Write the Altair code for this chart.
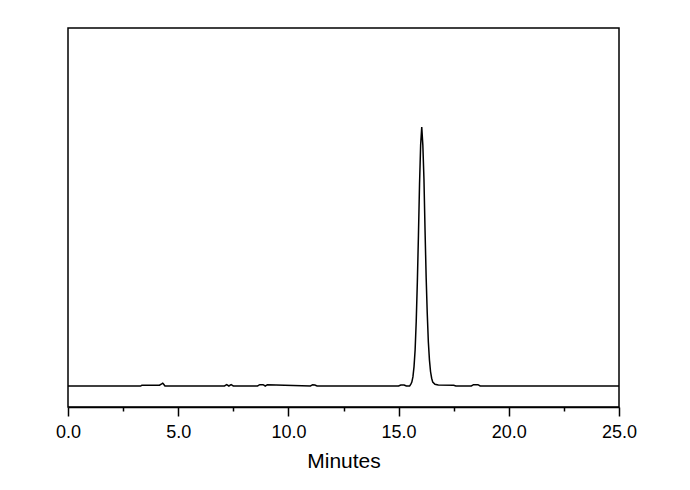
import altair as alt
import pandas as pd

time_min = [0.0, 3.3, 3.35, 4.15, 4.25, 4.3, 4.35, 4.4, 4.45, 7.1, 7.2, 7.3, 7.4, 7.5, 7.6,
            8.6, 8.7, 8.85, 8.95, 9.05, 11.0, 11.1, 11.2, 11.3, 15.0, 15.1, 15.25, 15.35,
            15.5, 15.55, 15.6, 15.65, 15.7, 15.75, 15.8, 15.85, 15.9, 15.95, 16.0, 16.05,
            16.1, 16.15, 16.2, 16.25, 16.3, 16.35, 16.4, 16.45, 16.5, 16.55, 16.65, 16.8,
            17.5, 17.6, 18.3, 18.4, 18.6, 18.7, 25.0]
signal = [0.0, 0.0, 0.3, 0.3, 0.8, 1.1, 0.6, 0.0, 0.0, 0.0, 0.5, 0.0, 0.5, 0.0, 0.0,
          0.0, 0.5, 0.5, 0.0, 0.5, 0.0, 0.5, 0.4, 0.0, 0.0, 0.4, 0.4, 0.0,
          0.0, 0.6, 1.5, 3.5, 7.5, 14.0, 25.0, 40.0, 58.0, 78.0, 93.0, 100.0,
          93.0, 80.0, 60.0, 42.0, 28.0, 17.0, 10.0, 5.5, 3.0, 1.5, 0.7, 0.4,
          0.3, 0.0, 0.0, 0.5, 0.5, 0.0, 0.0]

x_ticks = [0.0, 2.5, 5.0, 7.5, 10.0, 12.5, 15.0, 17.5, 20.0, 22.5, 25.0]

df = pd.DataFrame({"t": time_min, "s": signal})

chart = alt.Chart(df).mark_line(color="black", strokeWidth=1.5).encode(
    x=alt.X("t:Q", scale=alt.Scale(domain=[0, 25], nice=False, zero=False),
            axis=alt.Axis(title="Minutes", values=x_ticks, grid=False,
                          labelExpr="datum.value % 5 === 0 ? format(datum.value, '.1f') : ''",
                          tickSize={"condition": {"test": "datum.value % 5 === 0", "value": 9}, "value": 4},
                          tickColor="black", tickWidth=1.5, domainColor="black", domainWidth=1.5,
                          labelFont="Liberation Sans", labelFontSize=18, labelColor="black",
                          labelPadding=7, labelFlush=False,
                          titleFont="Liberation Sans", titleFontSize=21, titleFontWeight="normal",
                          titleColor="black", titlePadding=9)),
    y=alt.Y("s:Q", scale=alt.Scale(domain=[-8.1, 138.2], nice=False, zero=False), axis=None),
).properties(
    width=551, height=379,
    autosize=alt.AutoSizeParams(type="none"),
    padding={"left": 60, "top": 20, "right": 60, "bottom": 80},
).configure_view(stroke="black", strokeWidth=1.5)

chart.save("out.html", embed_options={"renderer": "svg", "actions": False})
